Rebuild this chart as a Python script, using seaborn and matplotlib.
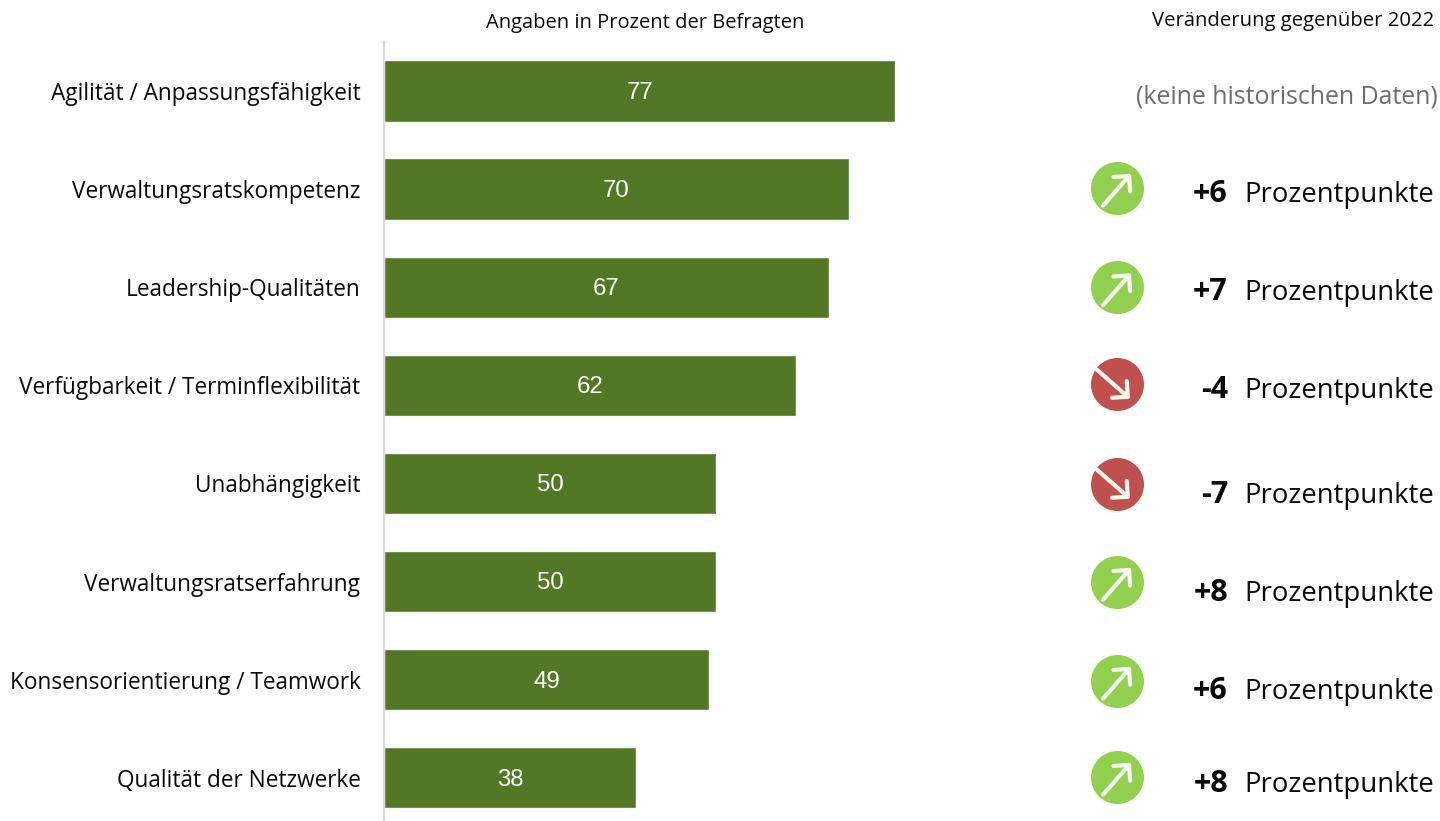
import matplotlib
matplotlib.use("Agg")
import matplotlib.pyplot as plt
import pandas as pd
import seaborn as sns

# Survey results
categories = [
    "Agilität / Anpassungsfähigkeit", "Verwaltungsratskompetenz", "Leadership-Qualitäten",
    "Verfügbarkeit / Terminflexibilität", "Unabhängigkeit", "Verwaltungsratserfahrung",
    "Konsensorientierung / Teamwork", "Qualität der Netzwerke",
]
shares = [77, 70, 67, 62, 50, 50, 49, 38]
changes = [None, "+6", "+7", "-4", "-7", "+8", "+6", "+8"]
unit_label = "Prozentpunkte"
no_history_label = "(keine historischen Daten)"
left_header = "Angaben in Prozent der Befragten"
right_header = "Veränderung gegenüber 2022"

# Styling and layout
BAR = "#527825"
UP = "#92D050"
DOWN = "#C0504D"
INK = "#0A0A0A"
W, H = 1440, 821
SANS = "Open Sans"
icon_nudge = [0, -1.4, 0, -1.6, 0.3, 0.2, 1.1, -1]
baseline_offset = [0, 12.6, 12.8, 12.7, 19.3, 19.5, 19.4, 14]

sns.set_theme(style="white")
plt.rcParams["font.family"] = [SANS, "DejaVu Sans"]

frame = pd.DataFrame({"Kategorie": categories, "Anteil": shares})
fig = plt.figure(figsize=(W / 100, H / 100), dpi=100, facecolor="white")

# Bars: axes run from x=384 to x=1044, y=42 to the bottom edge
ax = fig.add_axes([384 / W, 0, 660 / W, (H - 42) / H])
sns.barplot(data=frame, y="Kategorie", x="Anteil", color=BAR, saturation=1,
            width=0.625, orient="h", ax=ax)
ax.set_xlim(0, 660 / 6.64)
ax.set_ylim((H - 91) / 98.1, -0.5)
ax.set_xlabel("")
ax.set_ylabel("")
ax.xaxis.set_visible(False)
for side in ("top", "right", "bottom"):
    ax.spines[side].set_visible(False)
ax.spines["left"].set_color("#D9D9D9")
ax.spines["left"].set_linewidth(1.6)
ax.tick_params(axis="y", length=0, pad=17, labelsize=16.3, labelcolor=INK)
for bar, value in zip(ax.containers[0], shares):
    ax.annotate(str(value), xy=(bar.get_width() / 2, bar.get_y() + bar.get_height() / 2),
                xytext=(0, -1.4), textcoords="offset points", ha="center", va="center",
                color="white", fontsize=17.3, family="Liberation Sans")

# Overlay in pixel coordinates for the change column and headers
ov = fig.add_axes([0, 0, 1, 1], facecolor="none")
ov.set_xlim(0, W)
ov.set_ylim(H, 0)
ov.axis("off")

ov.text(645, 23, left_header, ha="center", va="center", fontsize=14.5, color=INK)
ov.text(1293, 21, right_header, ha="center", va="center", fontsize=14.6, color=INK)
ov.text(1438, 97, no_history_label, ha="right", va="center", fontsize=17.9, color="#6E6E6E")

row_y = [91 + 98.1 * i for i in range(len(categories))]
ICON_X = 1117
for i, change in enumerate(changes):
    if change is None:
        continue
    rising = change.startswith("+")
    cy = row_y[i] + icon_nudge[i]
    base = row_y[i] + baseline_offset[i]
    ov.scatter([ICON_X], [cy], s=(53 * 0.72) ** 2, color=UP if rising else DOWN,
               linewidths=0, zorder=2)
    if rising:
        start, end = (ICON_X - 14, cy + 18), (ICON_X + 14, cy - 14)
    else:
        start, end = (ICON_X - 20, cy - 14), (ICON_X + 13, cy + 15)
    ov.annotate("", xy=end, xytext=start, zorder=3,
                arrowprops=dict(arrowstyle="->,head_length=0.5,head_width=0.5",
                                mutation_scale=16, color="#F4F8EE", lw=3,
                                shrinkA=0, shrinkB=0))
    ov.text(1228, base, change, ha="right", va="baseline", fontsize=22, fontweight="bold",
            color=INK)
    ov.text(1434, base, unit_label, ha="right", va="baseline", fontsize=19.8, color=INK)

fig.savefig("out.png", dpi=100)
